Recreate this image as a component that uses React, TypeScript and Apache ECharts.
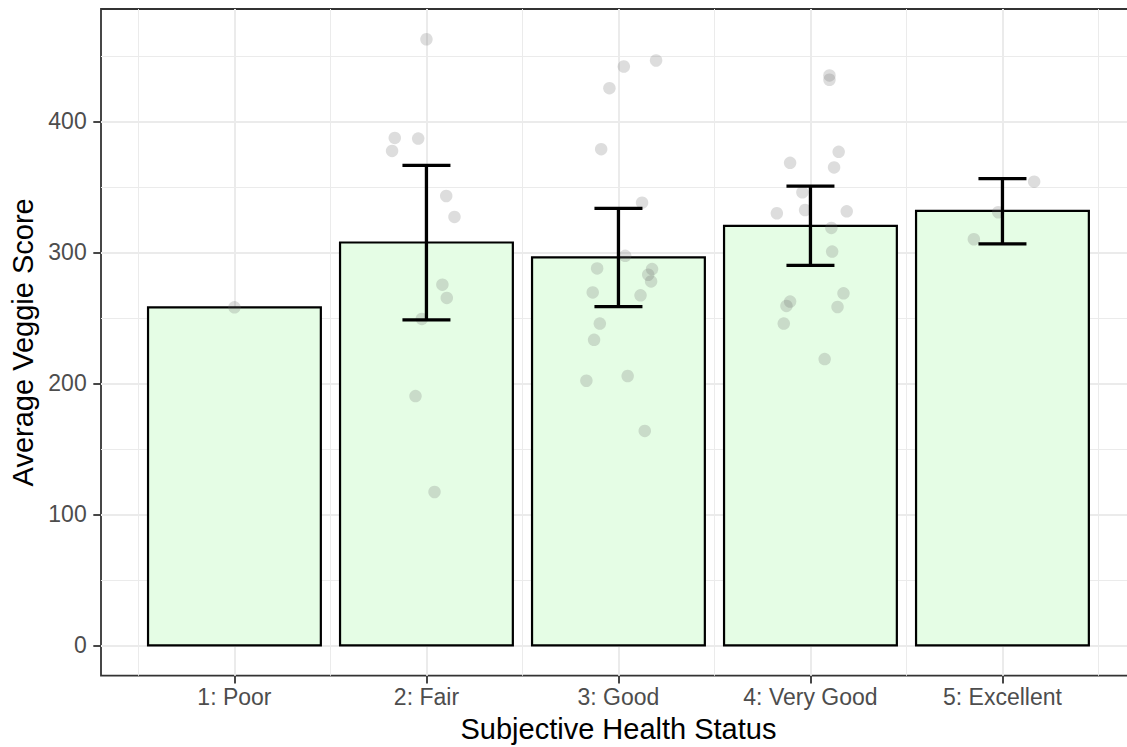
import React, { useEffect, useRef } from "react";
import * as echarts from "echarts";

const categories = ["1: Poor", "2: Fair", "3: Good", "4: Very Good", "5: Excellent"];
const categoryPos = [1, 2, 3, 4, 5];
const means = [258.0, 307.5, 296.1, 320.2, 331.6];
const errLow = [null, 248.4, 258.6, 290.0, 306.5];
const errHigh = [null, 366.3, 333.6, 350.6, 356.2];

const pointX = [
  1.0,
  2.0, 1.835, 1.957, 1.821, 2.103, 2.146, 2.083, 2.106, 1.976, 1.943, 2.042,
  3.196, 3.028, 2.953, 2.91, 3.123, 3.035, 2.889, 3.175, 3.155, 3.17, 2.866, 3.115, 2.903, 2.873, 3.048, 2.833, 3.137,
  4.099, 4.099, 4.147, 3.894, 4.123, 3.958, 3.825, 3.972, 4.189, 4.109, 4.113, 4.172, 3.894, 3.875, 4.141, 3.861, 4.074,
  5.165, 4.978, 4.851,
];
const pointY = [
  258.0,
  462.6, 387.3, 386.8, 377.4, 343.0, 327.0, 275.3, 265.2, 249.2, 190.3, 117.1,
  446.4, 441.8, 425.3, 378.7, 337.9, 297.3, 287.7, 287.2, 282.9, 277.8, 269.4, 267.2, 245.6, 233.2, 205.6, 202.0, 163.7,
  435.0, 431.7, 376.7, 368.3, 364.8, 345.8, 329.8, 332.3, 331.3, 318.6, 300.6, 268.7, 262.4, 259.1, 258.3, 245.6, 218.5,
  353.9, 330.6, 310.0,
];

const yMajor = [0, 100, 200, 300, 400];
const yMinor = [50, 150, 250, 350, 450];
const xMajor = [1, 2, 3, 4, 5];
const xMinor = [0.5, 1.5, 2.5, 3.5, 4.5, 5.5];

const FONT = "Liberation Sans, Arial, Helvetica, sans-serif";

export default function App() {
  const ref = useRef<HTMLDivElement>(null);
  useEffect(() => {
    if (!ref.current) return;
    const chart = echarts.init(ref.current, undefined, { renderer: "svg" });

    const barData = categoryPos.map((x, i) => [x, means[i]]);
    const errData = categoryPos
      .map((x, i) => [x, errLow[i], errHigh[i]])
      .filter((d) => d[1] != null);
    const pts = pointX.map((x, i) => [x, pointY[i]]);

    const gridLine = (color: string, width: number) => ({
      color,
      width,
      type: "solid",
    });

    const option: any = {
      animation: false,
      backgroundColor: "#ffffff",
      grid: {
        left: 101,
        top: 9,
        width: 1034.9,
        height: 666.7,
        show: true,
        backgroundColor: "#ffffff",
        borderColor: "#333333",
        borderWidth: 1.8,
        containLabel: false,
        outerBoundsMode: "none",
      },
      xAxis: {
        type: "value",
        min: 0.305,
        max: 5.695,
        name: "Subjective Health Status",
        nameLocation: "middle",
        nameGap: 39,
        nameTextStyle: { color: "#000000", fontSize: 29, fontFamily: FONT },
        axisLine: { show: false, onZero: false },
        axisTick: {
          show: true,
          length: 7.7,
          customValues: xMajor,
          lineStyle: { color: "#333333", width: 1.8 },
        },
        axisLabel: {
          customValues: xMajor,
          color: "#4D4D4D",
          fontSize: 23,
          fontFamily: FONT,
          margin: 10,
          formatter: (v: number) => categories[Math.round(v) - 1] ?? "",
        },
        splitLine: { show: false },
      },
      yAxis: {
        type: "value",
        min: -23.1,
        max: 485.7,
        name: "Average Veggie Score",
        nameLocation: "middle",
        nameGap: 52,
        nameTextStyle: { color: "#000000", fontSize: 29, fontFamily: FONT },
        axisLine: { show: false, onZero: false },
        axisTick: {
          show: true,
          length: 7.7,
          customValues: yMajor,
          lineStyle: { color: "#333333", width: 1.8 },
        },
        axisLabel: {
          customValues: yMajor,
          color: "#4D4D4D",
          fontSize: 23,
          fontFamily: FONT,
          margin: 14.3,
        },
        splitLine: { show: false },
      },
      series: [
        {
          type: "line",
          data: [],
          silent: true,
          z: 1,
          markLine: {
            z: 1,
            silent: true,
            animation: false,
            symbol: ["none", "none"],
            label: { show: false },
            emphasis: { disabled: true },
            data: [
              ...yMinor.map((v) => ({ yAxis: v, lineStyle: gridLine("#EBEBEB", 1) })),
              ...xMinor.map((v) => ({ xAxis: v, lineStyle: gridLine("#EBEBEB", 1) })),
              ...yMajor.map((v) => ({ yAxis: v, lineStyle: gridLine("#EBEBEB", 2) })),
              ...xMajor.map((v) => ({ xAxis: v, lineStyle: gridLine("#EBEBEB", 2) })),
            ],
          },
        },
        {
          type: "custom",
          z: 2,
          silent: true,
          data: barData,
          encode: { x: 0, y: 1 },
          renderItem: (params: any, api: any) => {
            const x = api.value(0);
            const y = api.value(1);
            const p1 = api.coord([x - 0.45, y]);
            const p2 = api.coord([x + 0.45, 0]);
            return {
              type: "rect",
              shape: { x: p1[0], y: p1[1], width: p2[0] - p1[0], height: p2[1] - p1[1] },
              style: { fill: "#E5FDE5", stroke: "#000000", lineWidth: 2.2 },
            };
          },
        },
        {
          type: "scatter",
          z: 3,
          silent: true,
          data: pts,
          symbol: "circle",
          symbolSize: 12.5,
          itemStyle: { color: "rgba(110,110,110,0.29)" },
        },
        {
          type: "custom",
          z: 4,
          silent: true,
          data: errData,
          encode: { x: 0, y: [1, 2] },
          renderItem: (params: any, api: any) => {
            const x = api.value(0);
            const lo = api.value(1);
            const hi = api.value(2);
            const top = api.coord([x, hi]);
            const bot = api.coord([x, lo]);
            const l = api.coord([x - 0.125, hi]);
            const r = api.coord([x + 0.125, hi]);
            const lb = api.coord([x - 0.125, lo]);
            const rb = api.coord([x + 0.125, lo]);
            const style = { stroke: "#000000", lineWidth: 3.3 };
            return {
              type: "group",
              children: [
                { type: "line", shape: { x1: top[0], y1: top[1], x2: bot[0], y2: bot[1] }, style },
                { type: "line", shape: { x1: l[0], y1: l[1], x2: r[0], y2: r[1] }, style },
                { type: "line", shape: { x1: lb[0], y1: lb[1], x2: rb[0], y2: rb[1] }, style },
              ],
            };
          },
        },
      ],
    };

    chart.setOption(option);
    return () => chart.dispose();
  }, []);

  return (
    <div
      ref={ref}
      style={{ position: "fixed", left: 0, top: 0, width: 1127, height: 747, background: "#fff" }}
    />
  );
}
